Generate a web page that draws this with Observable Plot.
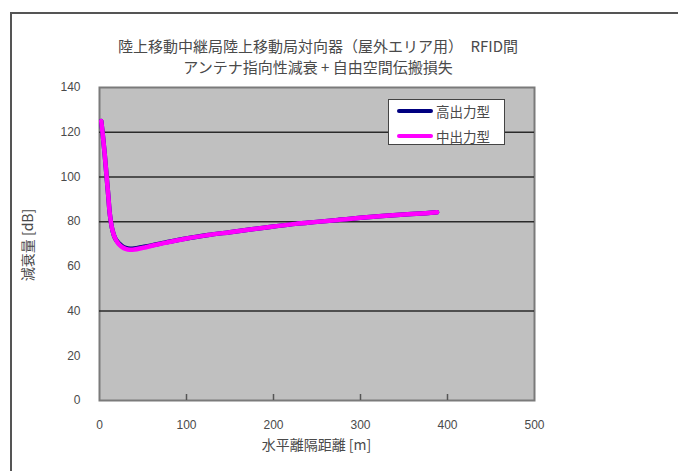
<!DOCTYPE html>
<html>
<head>
<meta charset="utf-8">
<script src="https://cdn.jsdelivr.net/npm/d3@7"></script>
<script src="https://cdn.jsdelivr.net/npm/@observablehq/plot@0.6"></script>
<style>
  html, body { margin: 0; padding: 0; background: #fff; }
  #wrap { position: relative; width: 678px; height: 471px; overflow: hidden; }
  #frame { position: absolute; left: 10px; top: 12px; width: 700px; height: 500px;
           border-left: 2px solid #555; border-top: 2px solid #555; }
  .jp { position: absolute; font-family: "Noto Sans CJK JP", sans-serif; color: #4a4a4a; white-space: nowrap; }
  #title { left: 0; width: 636px; top: 35px; text-align: center; font-size: 15px; line-height: 21px; }
  #xlabel { left: 0; width: 633px; top: 434px; text-align: center; font-size: 14px; }
  #ylabel { left: 27px; top: 245px; font-size: 14px; transform: translate(-50%, -50%) rotate(-90deg); }
  #legend { position: absolute; left: 388px; top: 99px; width: 117px; height: 46px; background: #fff;
            border: 1px solid #444; box-sizing: border-box; }
  .item { position: absolute; left: 8px; height: 20px; display: flex; align-items: center; font-family: "Noto Sans CJK JP", sans-serif; font-size: 13.5px; color: #4a4a4a; }
  .swatch { width: 36px; height: 4px; margin-right: 3px; border-radius: 2px; }
  #chart { position: absolute; left: 0; top: 0; }
</style>
</head>
<body>
<div id="wrap">
  <div id="frame"></div>
  <div id="chart"></div>
  <div id="title" class="jp"></div>
  <div id="xlabel" class="jp"></div>
  <div id="ylabel" class="jp"></div>
  <div id="legend"></div>
</div>
<script>
const titleLines = ["陸上移動中継局陸上移動局対向器（屋外エリア用）　RFID間", "アンテナ指向性減衰 + 自由空間伝搬損失"];
const xLabel = "水平離隔距離 [m]";
const yLabel = "減衰量 [dB]";
const seriesNames = ["高出力型", "中出力型"];
const seriesColors = ["#000080", "#ff00ff"];
const xTicks = [0, 100, 200, 300, 400, 500];
const yTicks = [0, 20, 40, 60, 80, 100, 120, 140];
const gridLines = [40, 80, 100, 120];

const distance  = [2, 4, 6, 8, 10, 12, 15, 18, 22, 26, 30, 35, 40, 50, 60, 75, 100, 125, 150, 175, 200, 225, 250, 275, 300, 325, 350, 375, 388];
const highPower = [125, 118, 110, 101, 92, 83, 76, 72.5, 70.4, 69.1, 68.3, 67.9, 68.0, 68.7, 69.4, 70.6, 72.5, 74.0, 75.3, 76.6, 77.8, 79.0, 79.9, 80.8, 81.7, 82.5, 83.2, 83.8, 84.2];
const midPower  = [125, 118, 110, 101, 92, 83, 76, 72.5, 70.0, 68.6, 67.8, 67.4, 67.5, 68.3, 69.2, 70.5, 72.5, 74.0, 75.3, 76.6, 77.8, 79.0, 79.9, 80.8, 81.7, 82.5, 83.2, 83.8, 84.2];

const rows = [];
distance.forEach((d, i) => {
  rows.push({x: d, y: highPower[i], s: seriesNames[0]});
  rows.push({x: d, y: midPower[i], s: seriesNames[1]});
});

const chart = Plot.plot({
  width: 678,
  height: 471,
  marginLeft: 99,
  marginRight: 144,
  marginTop: 87,
  marginBottom: 71,
  style: {fontFamily: "'Liberation Sans', Arial, sans-serif", fontSize: "12px", color: "#444", background: "transparent"},
  x: {domain: [0, 500]},
  y: {domain: [0, 140]},
  color: {domain: seriesNames, range: seriesColors},
  marks: [
    Plot.frame({fill: "#c0c0c0", stroke: "#7a7a7a", strokeWidth: 2}),
    Plot.ruleY(gridLines, {stroke: "#2a2a2a", strokeWidth: 1.5}),
    Plot.tickX(xTicks.slice(1, -1), {x: d => d, insetTop: 307, stroke: "#555", strokeWidth: 1.5}),
    Plot.line(rows.filter(r => r.s === seriesNames[0]), {x: "x", y: "y", stroke: "s", strokeWidth: 4.5, curve: "catmull-rom"}),
    Plot.line(rows.filter(r => r.s === seriesNames[1]), {x: "x", y: "y", stroke: "s", strokeWidth: 4.5, curve: "catmull-rom"}),
    Plot.axisX({ticks: xTicks, tickSize: 0, tickPadding: 20, label: null, fill: "#4a4a4a"}),
    Plot.axisY({ticks: yTicks, tickSize: 0, tickPadding: 19, label: null, fill: "#4a4a4a"})
  ]
});
document.getElementById("chart").appendChild(chart);

document.getElementById("title").innerHTML = titleLines.join("<br>");
document.getElementById("xlabel").textContent = xLabel;
document.getElementById("ylabel").textContent = yLabel;

const legend = document.getElementById("legend");
seriesNames.forEach((name, i) => {
  const item = document.createElement("div");
  item.className = "item";
  item.style.top = (1 + i * 25) + "px";
  const sw = document.createElement("div");
  sw.className = "swatch";
  sw.style.background = seriesColors[i];
  const t = document.createElement("span");
  t.textContent = name;
  item.appendChild(sw);
  item.appendChild(t);
  legend.appendChild(item);
});
</script>
</body>
</html>
